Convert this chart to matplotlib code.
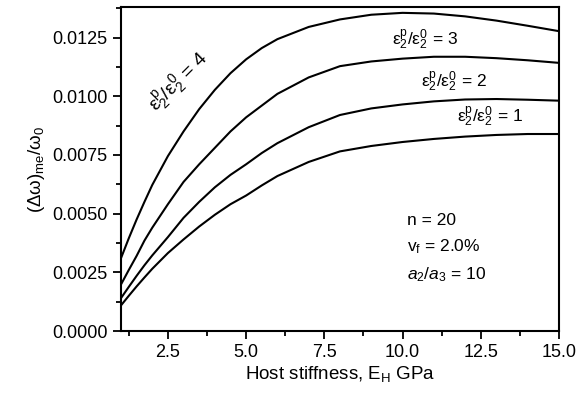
import numpy as np
import matplotlib
matplotlib.use("Agg")
import matplotlib.pyplot as plt
from matplotlib.ticker import MultipleLocator, FormatStrFormatter

plt.rcParams['font.family'] = ['Liberation Sans', 'DejaVu Sans']
plt.rcParams['mathtext.fontset'] = 'custom'
plt.rcParams['mathtext.rm'] = 'Liberation Sans'
plt.rcParams['mathtext.it'] = 'Liberation Sans:italic'

# host stiffness (GPa)
E_H = [1, 1.25, 1.5, 1.75, 2, 2.5, 3, 3.5, 4, 4.5, 5, 5.5, 6, 7, 8, 9, 10, 11, 12, 13, 14, 15]

# (dw)_me / w0 for eps2p/eps2_0 = 1..4
ratio1 = [0.00109, 0.0015, 0.0019, 0.00228, 0.00265, 0.00332, 0.0039, 0.00445, 0.00495, 0.0054, 0.00577,
          0.0062, 0.0066, 0.0072, 0.00765, 0.00788, 0.00805, 0.00818, 0.00828, 0.00835, 0.00839, 0.00839]
ratio2 = [0.0014, 0.00188, 0.00235, 0.0028, 0.00322, 0.0040, 0.00482, 0.0055, 0.00612, 0.00665, 0.0071,
          0.00758, 0.0080, 0.00868, 0.0092, 0.00948, 0.00965, 0.00978, 0.00986, 0.00988, 0.00985, 0.00981]
ratio3 = [0.00198, 0.0026, 0.0032, 0.00385, 0.0044, 0.0054, 0.00635, 0.0071, 0.0078, 0.0085, 0.0091,
          0.0096, 0.0101, 0.0108, 0.01128, 0.01148, 0.0116, 0.01168, 0.01168, 0.01162, 0.01153, 0.01142]
ratio4 = [0.0031, 0.00395, 0.00475, 0.0055, 0.00622, 0.00745, 0.0085, 0.00945, 0.01027, 0.01098, 0.01157,
          0.01205, 0.01243, 0.01295, 0.01327, 0.01347, 0.01355, 0.01352, 0.0134, 0.01322, 0.013, 0.01277]

fig = plt.figure(figsize=(5.78, 3.99), dpi=100)
ax = fig.add_axes([0.2093, 0.1704, 0.7578, 0.8121])

for ys in [ratio1, ratio2, ratio3, ratio4]:
    ax.plot(E_H, ys, c="k", lw=1.5)

ax.set_xlim(1, 15)
ax.set_ylim(0, 0.0138)
ax.xaxis.set_major_locator(MultipleLocator(2.5))
ax.xaxis.set_minor_locator(MultipleLocator(1.25))
ax.yaxis.set_major_locator(MultipleLocator(0.0025))
ax.yaxis.set_minor_locator(MultipleLocator(0.00125))
ax.yaxis.set_major_formatter(FormatStrFormatter('%.4f'))
ax.xaxis.set_major_formatter(FormatStrFormatter('%.1f'))
ax.tick_params(which='major', direction='out', length=6, width=1.3, labelsize=13)
ax.tick_params(which='minor', direction='out', length=3.5, width=1.3)
for s in ax.spines.values():
    s.set_linewidth(1.5)

ax.set_xlabel(r"Host stiffness, E$_\mathregular{H}$ GPa", fontsize=13.5, labelpad=2)
ax.set_ylabel(r"$\mathregular{(\Delta\omega)_{me}/\omega_0}$", fontsize=13.5, labelpad=4)

ax.text(9.66, 0.01241, r"$\mathregular{ε_2^p/ε_2^0\,=\,3}$", fontsize=12.5, va="center")
ax.text(10.59, 0.01062, r"$\mathregular{ε_2^p/ε_2^0\,=\,2}$", fontsize=12.5, va="center")
ax.text(11.74, 0.00913, r"$\mathregular{ε_2^p/ε_2^0\,=\,1}$", fontsize=12.5, va="center")
ax.text(2.85, 0.0106, r"$\mathregular{ε_2^p/ε_2^0\,=\,4}$", fontsize=14,
        rotation=45, ha="center", va="center", rotation_mode="anchor")

ax.text(10.14, 0.00469, "n = 20", fontsize=12.5, va="center")
ax.text(10.14, 0.00358, r"v$_\mathregular{f}$ = 2.0%", fontsize=12.5, va="center")
ax.text(10.14, 0.00239, r"$a_2/a_3$ = 10", fontsize=12.5, va="center")

plt.savefig("out.png", dpi=100)
